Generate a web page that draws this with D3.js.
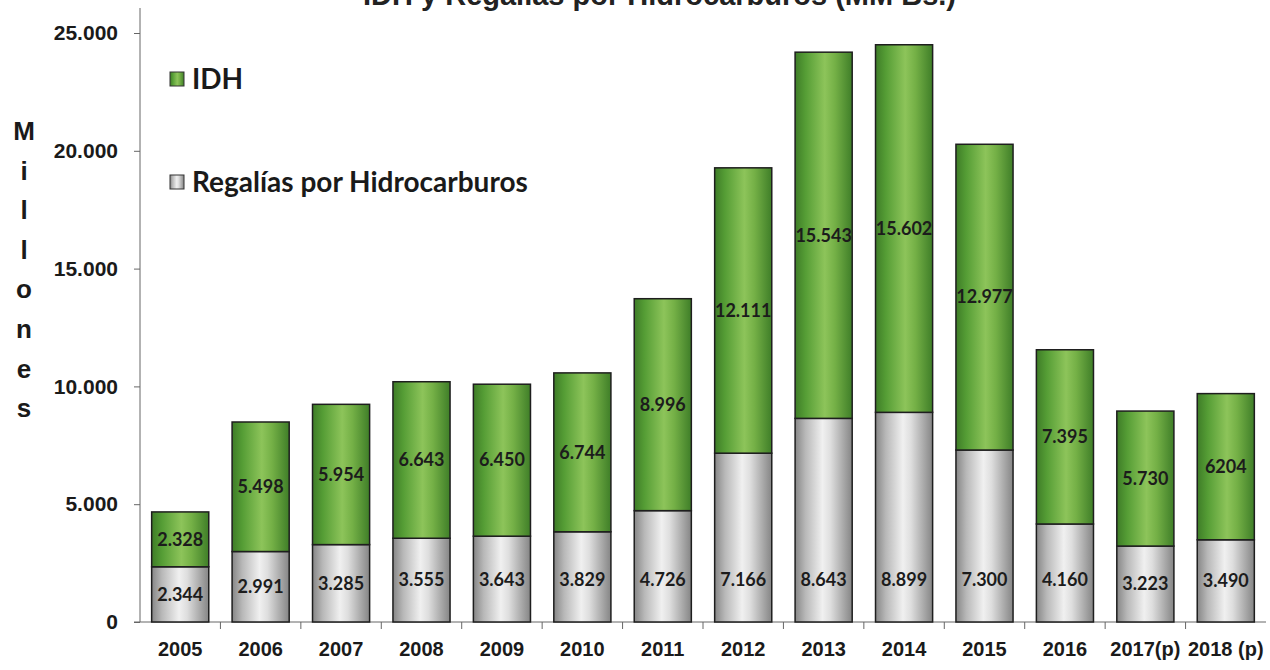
<!DOCTYPE html>
<html>
<head>
<meta charset="utf-8">
<script src="https://cdn.jsdelivr.net/npm/d3@7"></script>
<style>
  html, body { margin: 0; padding: 0; background: #fff; }
  svg { display: block; }
</style>
</head>
<body>
<svg id="chart" width="1270" height="670"></svg>
<script>
// Years on the category axis
const years = ["2005", "2006", "2007", "2008", "2009", "2010", "2011", "2012",
               "2013", "2014", "2015", "2016", "2017(p)", "2018 (p)"];
// Regalías por Hidrocarburos (millones de Bs.)
const regalias = [2344, 2991, 3285, 3555, 3643, 3829, 4726, 7166, 8643, 8899, 7300, 4160, 3223, 3490];
// Impuesto Directo a los Hidrocarburos (millones de Bs.)
const idh = [2328, 5498, 5954, 6643, 6450, 6744, 8996, 12111, 15543, 15602, 12977, 7395, 5730, 6204];
// Printed text of the IDH labels (the last one is written without separator)
const idhLabels = ["2.328", "5.498", "5.954", "6.643", "6.450", "6.744", "8.996", "12.111",
                   "15.543", "15.602", "12.977", "7.395", "5.730", "6204"];
// Value axis ticks
const yTicks = [0, 5000, 10000, 15000, 20000, 25000];
const yTickLabels = ["0", "5.000", "10.000", "15.000", "20.000", "25.000"];
const axisTitle = "Millones";
const title = "IDH y Regalías por Hidrocarburos (MM Bs.)";
const legendItems = ["IDH", "Regalías por Hidrocarburos"];

const svg = d3.select("#chart");
const plotLeft = 140, plotRight = 1266, plotTop = 33, plotBottom = 622;

const x = d3.scaleBand().domain(years).range([plotLeft, plotRight])
  .paddingInner(0.29).paddingOuter(0.145);
const y = d3.scaleLinear().domain([0, 25000]).range([plotBottom, plotTop]);

// Cylinder-like horizontal gradients for the bars
const defs = svg.append("defs");
function gradient(id, stops) {
  const g = defs.append("linearGradient").attr("id", id)
    .attr("x1", "0").attr("x2", "1").attr("y1", "0").attr("y2", "0");
  stops.forEach(([o, c]) => g.append("stop").attr("offset", o).attr("stop-color", c));
}
gradient("gGreen", [["0%", "#3e7c27"], ["18%", "#559d35"], ["52%", "#8dc45a"],
                    ["70%", "#74b046"], ["100%", "#3f7e28"]]);
gradient("gGray", [["0%", "#868686"], ["18%", "#b8b8b8"], ["48%", "#f0f0f0"],
                   ["62%", "#dedede"], ["100%", "#858585"]]);

// Title (sits partly above the top edge)
svg.append("text")
  .attr("x", 956).attr("y", 5)
  .attr("text-anchor", "end")
  .style("font", "bold 29px 'Liberation Sans', Arial, sans-serif")
  .attr("fill", "#222")
  .text(title);

// Y axis
const yAxis = d3.axisLeft(y).tickValues(yTicks).tickSize(6)
  .tickFormat((d, i) => yTickLabels[i]);
const gy = svg.append("g").attr("transform", `translate(${plotLeft},0)`).call(yAxis);
gy.select(".domain").attr("stroke", "#666").attr("d", `M0,${plotBottom}V8`);
gy.selectAll(".tick line").attr("stroke", "#666");
gy.selectAll(".tick text")
  .attr("x", -22)
  .attr("fill", "#1a1a1a")
  .style("font", "bold 21px 'Liberation Sans', Arial, sans-serif");

// X axis: ticks at the category boundaries
const step = x.step();
const gx = svg.append("g").attr("transform", `translate(0,${plotBottom})`);
gx.append("line").attr("x1", plotLeft - 6).attr("x2", plotRight).attr("y1", 0).attr("y2", 0)
  .attr("stroke", "#666");
years.forEach((yr, i) => {
  if (i > 0) {
    const bx = x(yr) - (step - x.bandwidth()) / 2;
    gx.append("line").attr("x1", bx).attr("x2", bx).attr("y1", 0).attr("y2", 7)
      .attr("stroke", "#666");
  }
});
gx.selectAll("text.xl").data(years).join("text")
  .attr("class", "xl")
  .attr("x", d => x(d) + x.bandwidth() / 2)
  .attr("y", 34)
  .attr("text-anchor", "middle")
  .attr("fill", "#1a1a1a")
  .style("font", "bold 20px 'Liberation Sans', Arial, sans-serif")
  .text(d => d);

// Vertical axis title, one letter per line
svg.append("g").selectAll("text").data(axisTitle.split("")).join("text")
  .attr("x", 24)
  .attr("y", (d, i) => 140 + i * 39.6)
  .attr("text-anchor", "middle")
  .attr("fill", "#1a1a1a")
  .style("font", "bold 26px 'Liberation Sans', Arial, sans-serif")
  .text(d => d);

// Stacked bars
const rows = years.map((yr, i) => ({ yr, r: regalias[i], d: idh[i], lab: idhLabels[i] }));
const bars = svg.append("g");
bars.selectAll("rect.reg").data(rows).join("rect")
  .attr("class", "reg")
  .attr("x", d => x(d.yr)).attr("width", x.bandwidth())
  .attr("y", d => y(d.r)).attr("height", d => y(0) - y(d.r))
  .attr("fill", "url(#gGray)").attr("stroke", "#1e1e1e").attr("stroke-width", 1.5);
bars.selectAll("rect.idh").data(rows).join("rect")
  .attr("class", "idh")
  .attr("x", d => x(d.yr)).attr("width", x.bandwidth())
  .attr("y", d => y(d.r + d.d)).attr("height", d => y(d.r) - y(d.r + d.d))
  .attr("fill", "url(#gGreen)").attr("stroke", "#1e1e1e").attr("stroke-width", 1.5);

// Value labels
const fmt = d3.formatLocale({ decimal: ",", thousands: ".", grouping: [3], currency: ["", ""] }).format(",d");
const labelFont = "bold 18px Lato, 'Open Sans', sans-serif";
bars.selectAll("text.rl").data(rows).join("text")
  .attr("class", "rl")
  .attr("x", d => x(d.yr) + x.bandwidth() / 2)
  .attr("y", d => y(Math.min(d.r / 2, 1800)))
  .attr("dy", "0.35em")
  .attr("text-anchor", "middle")
  .attr("fill", "#1c1c1c")
  .style("font", labelFont)
  .text(d => fmt(d.r));
bars.selectAll("text.il").data(rows).join("text")
  .attr("class", "il")
  .attr("x", d => x(d.yr) + x.bandwidth() / 2)
  .attr("y", d => y(d.r + d.d * 0.5))
  .attr("dy", "0.35em")
  .attr("text-anchor", "middle")
  .attr("fill", "#1c1c1c")
  .style("font", labelFont)
  .text(d => d.lab);

// Legend
const legend = svg.append("g");
const legendY = [79, 182];
const legendFill = ["url(#gGreen)", "url(#gGray)"];
legendItems.forEach((t, i) => {
  legend.append("rect").attr("x", 170).attr("y", legendY[i] - 7).attr("width", 14).attr("height", 14)
    .attr("fill", legendFill[i]).attr("stroke", "#333").attr("stroke-width", 1);
  legend.append("text").attr("x", 192).attr("y", legendY[i]).attr("dy", "0.36em")
    .attr("fill", "#1a1a1a")
    .style("font", "bold 28px Lato, 'Open Sans', sans-serif")
    .text(t);
});
</script>
</body>
</html>
